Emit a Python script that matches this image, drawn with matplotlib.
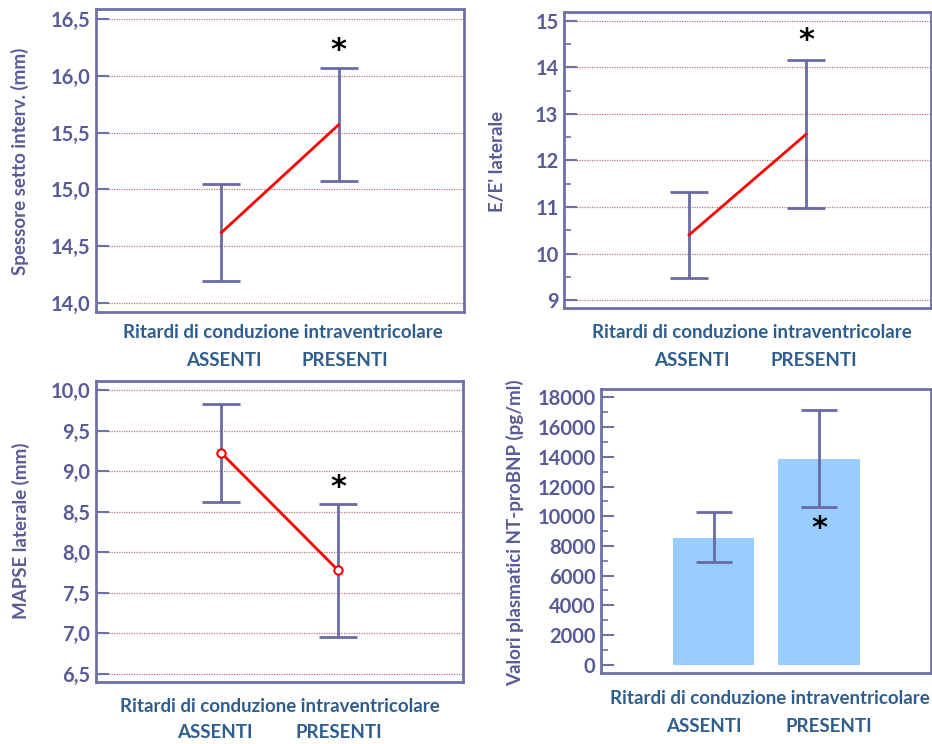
import numpy as np
import matplotlib
matplotlib.use("Agg")
import matplotlib.pyplot as plt
from matplotlib.ticker import FuncFormatter, MultipleLocator

plt.rcParams['font.family'] = ['Lato', 'DejaVu Sans']
plt.rcParams['font.weight'] = 'bold'

# data
groups = ['ASSENTI', 'PRESENTI']
xlabel_txt = 'Ritardi di conduzione intraventricolare'

setto_mean = [14.62, 15.57]
setto_low = [14.19, 15.07]
setto_high = [15.05, 16.07]

ee_mean = [10.40, 12.56]
ee_low = [9.47, 10.98]
ee_high = [11.33, 14.16]

mapse_mean = [9.23, 7.78]
mapse_low = [8.62, 6.95]
mapse_high = [9.83, 8.60]

bnp_mean = [8550, 13850]
bnp_low = [6940, 10590]
bnp_high = [10260, 17170]

TICKC = '#5a5a96'
SPINEC = '#7070a8'
BARC = '#6a6aa5'
BLUE = '#2f5e8e'
GRIDC = '#c47474'
W, H = 932, 744

fig = plt.figure(figsize=(9.32, 7.44), dpi=100)


def px_axes(l, r, t, b):
    return fig.add_axes([l / W, 1 - b / H, (r - l) / W, (b - t) / H])


def style(ax, grid=True):
    for s in ax.spines.values():
        s.set_color(SPINEC)
        s.set_linewidth(2)
    ax.tick_params(axis='y', which='both', direction='in', color=SPINEC,
                   labelcolor=TICKC, labelsize=14.5, pad=4)
    ax.tick_params(axis='y', which='major', length=9, width=1.5)
    ax.tick_params(axis='y', which='minor', length=5, width=1.2)
    ax.set_xticks([])
    if grid:
        ax.yaxis.grid(True, color=GRIDC, linestyle=(0, (1, 1)), linewidth=0.9)
        ax.set_axisbelow(True)
    for lab in ax.get_yticklabels():
        lab.set_fontweight('bold')


comma = FuncFormatter(lambda v, p: ('%.1f' % v).replace('.', ','))
xpos = np.array([1, 2])


def line_panel(ax, mean, low, high, ylim, step, fmt, star_y, markers=False, minor=None):
    mean = np.array(mean)
    yerr = [mean - np.array(low), np.array(high) - mean]
    ax.errorbar(xpos, mean, yerr=yerr, fmt='none', ecolor=BARC, elinewidth=2,
                capsize=14, capthick=2, zorder=3)
    if markers:
        ax.plot(xpos, mean, color='red', lw=2, marker='o', ms=6, mfc='white',
                mec='red', mew=1.5, zorder=4)
    else:
        ax.plot(xpos, mean, color='red', lw=2, zorder=4)
    ax.set_xlim(-0.07, 3.07)
    ax.set_ylim(*ylim)
    ax.yaxis.set_major_locator(MultipleLocator(step))
    if minor:
        ax.yaxis.set_minor_locator(MultipleLocator(minor))
    if fmt:
        ax.yaxis.set_major_formatter(fmt)
    style(ax)
    ax.text(xpos[1], star_y, '*', ha='center', va='center', fontsize=22,
            color='black', family='DejaVu Sans', fontweight='bold')


ax1 = px_axes(96, 464, 9, 312)
line_panel(ax1, setto_mean, setto_low, setto_high, (13.92, 16.59), 0.5, comma, 16.22)

ax2 = px_axes(564, 931, 12, 308)
line_panel(ax2, ee_mean, ee_low, ee_high, (8.83, 15.19), 1, None, 14.58, minor=0.5)

ax3 = px_axes(96, 463, 381, 682)
line_panel(ax3, mapse_mean, mapse_low, mapse_high, (6.40, 10.115), 0.5, comma, 8.80, markers=True)

ax4 = px_axes(601, 931, 389, 673)
bm = np.array(bnp_mean)
ax4.bar(xpos, bm, width=0.77, color='#99ccff', zorder=2)
ax4.errorbar(xpos, bm, yerr=[bm - np.array(bnp_low), np.array(bnp_high) - bm], fmt='none',
             ecolor=BARC, elinewidth=2, capsize=13, capthick=2, zorder=3)
ax4.set_xlim(-0.066, 3.06)
ax4.set_ylim(-560, 18570)
ax4.yaxis.set_major_locator(MultipleLocator(2000))
ax4.yaxis.set_minor_locator(MultipleLocator(1000))
style(ax4, grid=False)
ax4.text(xpos[1], 9200, '*', ha='center', va='center', fontsize=22, color='black',
         family='DejaVu Sans', fontweight='bold')

# y labels
ylabels = [('Spessore setto interv. (mm)', 20, 161),
           ("E/E' laterale", 498, 161),
           ('MAPSE laterale (mm)', 21, 531),
           ('Valori plasmatici NT-proBNP (pg/ml)', 515, 533)]
for txt, x, y in ylabels:
    fig.text(x / W, 1 - y / H, txt, rotation=90, ha='center', va='center',
             fontsize=13.5, color=TICKC, fontweight='bold')

# x labels (two lines)
xl = [(283, 333, 224, 345, 360), (752, 333, 692, 814, 360),
      (280, 706, 215, 339, 733), (770, 698, 704, 829, 726)]
for cx, cy, ax_, px_, y2 in xl:
    fig.text(cx / W, 1 - cy / H, xlabel_txt, ha='center', va='center',
             fontsize=13.5, color=BLUE, fontweight='bold')
    fig.text(ax_ / W, 1 - y2 / H, groups[0], ha='center', va='center',
             fontsize=13.5, color=BLUE, fontweight='bold')
    fig.text(px_ / W, 1 - y2 / H, groups[1], ha='center', va='center',
             fontsize=13.5, color=BLUE, fontweight='bold')

fig.savefig('out.png', dpi=100)
